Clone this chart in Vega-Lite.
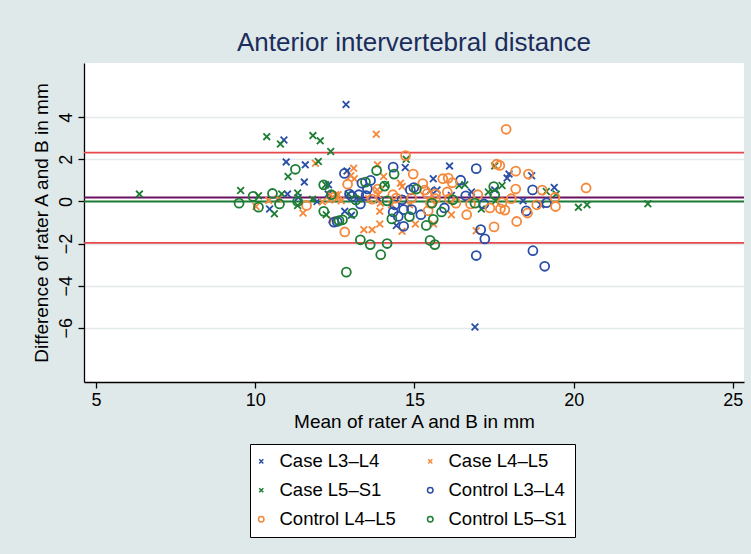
{
  "$schema": "https://vega.github.io/schema/vega-lite/v6.json",
  "autosize": {"type": "none"},
  "padding": {"left": 84, "top": 63, "right": 7, "bottom": 172},
  "width": 660,
  "height": 319,
  "background": "#e0e9ea",
  "title": {"text": "Anterior intervertebral distance", "fontSize": 26, "fontWeight": "normal", "font": "Liberation Sans", "color": "#1b2d5c", "anchor": "middle", "frame": "group", "offset": 7},
  "config": {
    "view": {"stroke": null, "fill": "white"},
    "font": "Liberation Sans",
    "axis": {"labelFont": "Liberation Sans", "titleFont": "Liberation Sans", "labelColor": "black", "titleColor": "black", "labelFontSize": 18, "titleFontSize": 19, "titleFontWeight": "normal", "domainColor": "black", "domainWidth": 1.3, "tickColor": "black", "tickWidth": 1.3, "tickSize": 6}
  },
  "layer": [
    {
      "data": {"values": [{"d": 2.32}]},
      "mark": {"type": "rule", "color": "#e5474b", "strokeWidth": 1.8},
      "encoding": {"y": {"field": "d", "type": "quantitative"}}
    },
    {
      "data": {"values": [{"d": -1.97}]},
      "mark": {"type": "rule", "color": "#e5474b", "strokeWidth": 1.8},
      "encoding": {"y": {"field": "d", "type": "quantitative"}}
    },
    {
      "data": {"values": [{"d": 0}]},
      "mark": {"type": "rule", "color": "#1e7a34", "strokeWidth": 2},
      "encoding": {"y": {"field": "d", "type": "quantitative"}}
    },
    {
      "data": {"values": [{"d": 0.19}]},
      "mark": {"type": "rule", "color": "#6b1060", "strokeWidth": 2},
      "encoding": {"y": {"field": "d", "type": "quantitative"}}
    },
    {
      "data": {"values": [
        {"g":"Case L3–L4","m":12.85,"d":4.61},{"g":"Case L3–L4","m":10.90,"d":2.92},{"g":"Case L3–L4","m":10.97,"d":1.88},{"g":"Case L3–L4","m":11.57,"d":1.74},{"g":"Case L3–L4","m":11.54,"d":0.92},{"g":"Case L3–L4","m":10.45,"d":-0.36},{"g":"Case L3–L4","m":11.01,"d":0.35},{"g":"Case L3–L4","m":11.35,"d":0.19},{"g":"Case L3–L4","m":11.94,"d":0.0},{"g":"Case L3–L4","m":12.30,"d":0.79},{"g":"Case L3–L4","m":12.29,"d":0.35},{"g":"Case L3–L4","m":12.88,"d":1.45},{"g":"Case L3–L4","m":14.71,"d":1.61},{"g":"Case L3–L4","m":15.59,"d":1.08},{"g":"Case L3–L4","m":16.10,"d":1.69},{"g":"Case L3–L4","m":15.50,"d":0.52},{"g":"Case L3–L4","m":15.71,"d":0.55},{"g":"Case L3–L4","m":13.88,"d":0.08},{"g":"Case L3–L4","m":12.81,"d":-0.47},{"g":"Case L3–L4","m":13.02,"d":-0.66},{"g":"Case L3–L4","m":14.43,"d":-1.14},{"g":"Case L3–L4","m":16.16,"d":0.28},{"g":"Case L3–L4","m":16.79,"d":0.45},{"g":"Case L3–L4","m":17.97,"d":1.30},{"g":"Case L3–L4","m":17.91,"d":1.11},{"g":"Case L3–L4","m":18.68,"d":1.22},{"g":"Case L3–L4","m":17.52,"d":0.55},{"g":"Case L3–L4","m":18.41,"d":0.03},{"g":"Case L3–L4","m":19.39,"d":0.66},{"g":"Case L3–L4","m":16.90,"d":-5.97},{"g":"Case L3–L4","m":18.97,"d":-0.16},
        {"g":"Case L4–L5","m":13.80,"d":3.19},{"g":"Case L4–L5","m":11.89,"d":1.82},{"g":"Case L4–L5","m":10.02,"d":-0.24},{"g":"Case L4–L5","m":10.42,"d":0.05},{"g":"Case L4–L5","m":10.72,"d":0.13},{"g":"Case L4–L5","m":11.50,"d":-0.55},{"g":"Case L4–L5","m":12.11,"d":-0.01},{"g":"Case L4–L5","m":12.36,"d":0.32},{"g":"Case L4–L5","m":12.52,"d":0.32},{"g":"Case L4–L5","m":12.33,"d":0.07},{"g":"Case L4–L5","m":12.55,"d":0.13},{"g":"Case L4–L5","m":12.40,"d":-0.87},{"g":"Case L4–L5","m":13.09,"d":1.58},{"g":"Case L4–L5","m":13.00,"d":1.22},{"g":"Case L4–L5","m":13.11,"d":1.08},{"g":"Case L4–L5","m":13.84,"d":1.74},{"g":"Case L4–L5","m":14.03,"d":1.19},{"g":"Case L4–L5","m":13.83,"d":0.55},{"g":"Case L4–L5","m":14.56,"d":0.87},{"g":"Case L4–L5","m":14.61,"d":0.71},{"g":"Case L4–L5","m":12.60,"d":0.32},{"g":"Case L4–L5","m":12.70,"d":0.03},{"g":"Case L4–L5","m":13.56,"d":0.13},{"g":"Case L4–L5","m":13.86,"d":0.32},{"g":"Case L4–L5","m":13.93,"d":-0.08},{"g":"Case L4–L5","m":14.28,"d":-0.16},{"g":"Case L4–L5","m":14.84,"d":-0.16},{"g":"Case L4–L5","m":15.03,"d":-1.07},{"g":"Case L4–L5","m":15.60,"d":-1.07},{"g":"Case L4–L5","m":13.41,"d":-1.34},{"g":"Case L4–L5","m":13.67,"d":-1.34},{"g":"Case L4–L5","m":13.91,"d":-1.07},{"g":"Case L4–L5","m":13.91,"d":-0.47},{"g":"Case L4–L5","m":14.61,"d":-1.42},{"g":"Case L4–L5","m":16.16,"d":-0.63},{"g":"Case L4–L5","m":16.94,"d":-1.39},
        {"g":"Case L5–S1","m":10.36,"d":3.08},{"g":"Case L5–S1","m":10.79,"d":2.73},{"g":"Case L5–S1","m":11.03,"d":1.19},{"g":"Case L5–S1","m":6.36,"d":0.35},{"g":"Case L5–S1","m":9.54,"d":0.52},{"g":"Case L5–S1","m":10.10,"d":0.27},{"g":"Case L5–S1","m":10.60,"d":-0.58},{"g":"Case L5–S1","m":10.83,"d":0.36},{"g":"Case L5–S1","m":11.33,"d":0.40},{"g":"Case L5–S1","m":11.33,"d":-0.19},{"g":"Case L5–S1","m":11.81,"d":3.13},{"g":"Case L5–S1","m":12.04,"d":2.88},{"g":"Case L5–S1","m":12.37,"d":2.37},{"g":"Case L5–S1","m":11.98,"d":1.90},{"g":"Case L5–S1","m":11.80,"d":0.11},{"g":"Case L5–S1","m":12.21,"d":0.79},{"g":"Case L5–S1","m":12.23,"d":-0.63},{"g":"Case L5–S1","m":14.74,"d":2.01},{"g":"Case L5–S1","m":12.92,"d":0.36},{"g":"Case L5–S1","m":14.09,"d":0.79},{"g":"Case L5–S1","m":16.40,"d":0.76},{"g":"Case L5–S1","m":16.58,"d":0.79},{"g":"Case L5–S1","m":17.10,"d":-0.36},{"g":"Case L5–S1","m":17.32,"d":0.45},{"g":"Case L5–S1","m":17.75,"d":0.76},{"g":"Case L5–S1","m":17.55,"d":0.03},{"g":"Case L5–S1","m":17.52,"d":1.69},{"g":"Case L5–S1","m":19.14,"d":0.47},{"g":"Case L5–S1","m":19.45,"d":0.35},{"g":"Case L5–S1","m":20.15,"d":-0.28},{"g":"Case L5–S1","m":20.42,"d":-0.16},{"g":"Case L5–S1","m":22.33,"d":-0.11},
        {"g":"Control L3–L4","m":12.80,"d":1.33},{"g":"Control L3–L4","m":14.33,"d":1.63},{"g":"Control L3–L4","m":13.35,"d":0.87},{"g":"Control L3–L4","m":13.62,"d":1.00},{"g":"Control L3–L4","m":13.52,"d":0.60},{"g":"Control L3–L4","m":14.87,"d":0.55},{"g":"Control L3–L4","m":14.98,"d":0.66},{"g":"Control L3–L4","m":12.96,"d":0.35},{"g":"Control L3–L4","m":13.04,"d":0.24},{"g":"Control L3–L4","m":13.25,"d":0.32},{"g":"Control L3–L4","m":13.48,"d":0.28},{"g":"Control L3–L4","m":13.30,"d":-0.12},{"g":"Control L3–L4","m":14.38,"d":-0.16},{"g":"Control L3–L4","m":14.61,"d":0.08},{"g":"Control L3–L4","m":14.66,"d":-0.39},{"g":"Control L3–L4","m":14.33,"d":-0.50},{"g":"Control L3–L4","m":14.49,"d":-0.71},{"g":"Control L3–L4","m":14.91,"d":-0.39},{"g":"Control L3–L4","m":15.20,"d":-0.63},{"g":"Control L3–L4","m":15.94,"d":-0.31},{"g":"Control L3–L4","m":12.57,"d":-0.95},{"g":"Control L3–L4","m":12.47,"d":-0.98},{"g":"Control L3–L4","m":14.66,"d":-1.18},{"g":"Control L3–L4","m":16.45,"d":1.01},{"g":"Control L3–L4","m":16.61,"d":0.27},{"g":"Control L3–L4","m":16.94,"d":1.56},{"g":"Control L3–L4","m":17.18,"d":-0.12},{"g":"Control L3–L4","m":18.51,"d":-0.45},{"g":"Control L3–L4","m":18.71,"d":0.55},{"g":"Control L3–L4","m":19.15,"d":-0.06},{"g":"Control L3–L4","m":17.08,"d":-1.34},{"g":"Control L3–L4","m":17.21,"d":-1.78},{"g":"Control L3–L4","m":16.94,"d":-2.57},{"g":"Control L3–L4","m":18.72,"d":-2.34},{"g":"Control L3–L4","m":19.09,"d":-3.08},
        {"g":"Control L4–L5","m":14.72,"d":2.18},{"g":"Control L4–L5","m":12.90,"d":0.82},{"g":"Control L4–L5","m":14.96,"d":1.30},{"g":"Control L4–L5","m":15.26,"d":0.85},{"g":"Control L4–L5","m":15.89,"d":1.08},{"g":"Control L4–L5","m":16.06,"d":1.11},{"g":"Control L4–L5","m":15.32,"d":0.54},{"g":"Control L4–L5","m":15.40,"d":0.37},{"g":"Control L4–L5","m":15.66,"d":0.35},{"g":"Control L4–L5","m":13.67,"d":0.11},{"g":"Control L4–L5","m":14.32,"d":0.32},{"g":"Control L4–L5","m":14.43,"d":0.16},{"g":"Control L4–L5","m":14.91,"d":0.16},{"g":"Control L4–L5","m":15.43,"d":-0.44},{"g":"Control L4–L5","m":15.50,"d":-0.08},{"g":"Control L4–L5","m":15.66,"d":0.13},{"g":"Control L4–L5","m":12.81,"d":-1.45},{"g":"Control L4–L5","m":11.61,"d":-0.19},{"g":"Control L4–L5","m":17.88,"d":3.43},{"g":"Control L4–L5","m":17.58,"d":1.77},{"g":"Control L4–L5","m":17.68,"d":1.71},{"g":"Control L4–L5","m":18.18,"d":1.44},{"g":"Control L4–L5","m":18.58,"d":1.30},{"g":"Control L4–L5","m":16.19,"d":0.89},{"g":"Control L4–L5","m":16.03,"d":0.45},{"g":"Control L4–L5","m":16.10,"d":0.13},{"g":"Control L4–L5","m":16.30,"d":-0.08},{"g":"Control L4–L5","m":16.99,"d":0.32},{"g":"Control L4–L5","m":16.76,"d":-0.12},{"g":"Control L4–L5","m":17.37,"d":-0.31},{"g":"Control L4–L5","m":17.75,"d":-0.05},{"g":"Control L4–L5","m":17.70,"d":-0.35},{"g":"Control L4–L5","m":17.84,"d":-0.41},{"g":"Control L4–L5","m":18.04,"d":0.13},{"g":"Control L4–L5","m":18.18,"d":0.59},{"g":"Control L4–L5","m":18.21,"d":-0.95},{"g":"Control L4–L5","m":17.50,"d":-1.21},{"g":"Control L4–L5","m":16.64,"d":-0.63},{"g":"Control L4–L5","m":18.55,"d":-0.55},{"g":"Control L4–L5","m":19.01,"d":0.54},{"g":"Control L4–L5","m":18.84,"d":-0.16},{"g":"Control L4–L5","m":19.41,"d":0.19},{"g":"Control L4–L5","m":19.43,"d":-0.24},{"g":"Control L4–L5","m":20.39,"d":0.64},{"g":"Control L4–L5","m":13.85,"d":0.59},
        {"g":"Control L5–S1","m":11.26,"d":1.53},{"g":"Control L5–S1","m":9.49,"d":-0.08},{"g":"Control L5–S1","m":9.93,"d":0.24},{"g":"Control L5–S1","m":10.10,"d":-0.27},{"g":"Control L5–S1","m":10.54,"d":0.38},{"g":"Control L5–S1","m":10.76,"d":-0.12},{"g":"Control L5–S1","m":11.33,"d":0.0},{"g":"Control L5–S1","m":12.15,"d":0.79},{"g":"Control L5–S1","m":12.39,"d":0.32},{"g":"Control L5–S1","m":12.15,"d":-0.47},{"g":"Control L5–S1","m":12.63,"d":-0.91},{"g":"Control L5–S1","m":13.81,"d":1.47},{"g":"Control L5–S1","m":14.36,"d":1.30},{"g":"Control L5–S1","m":13.46,"d":0.92},{"g":"Control L5–S1","m":14.06,"d":0.73},{"g":"Control L5–S1","m":15.06,"d":0.59},{"g":"Control L5–S1","m":13.16,"d":0.07},{"g":"Control L5–S1","m":14.14,"d":0.03},{"g":"Control L5–S1","m":14.84,"d":-0.72},{"g":"Control L5–S1","m":15.85,"d":-0.50},{"g":"Control L5–S1","m":15.59,"d":-0.85},{"g":"Control L5–S1","m":15.37,"d":-1.14},{"g":"Control L5–S1","m":12.74,"d":-0.87},{"g":"Control L5–S1","m":13.06,"d":-0.55},{"g":"Control L5–S1","m":13.30,"d":-1.82},{"g":"Control L5–S1","m":13.61,"d":-2.05},{"g":"Control L5–S1","m":14.14,"d":-2.00},{"g":"Control L5–S1","m":13.94,"d":-2.53},{"g":"Control L5–S1","m":12.86,"d":-3.36},{"g":"Control L5–S1","m":14.29,"d":-0.83},{"g":"Control L5–S1","m":15.49,"d":-1.85},{"g":"Control L5–S1","m":15.64,"d":-2.05},{"g":"Control L5–S1","m":15.55,"d":-0.08},{"g":"Control L5–S1","m":16.21,"d":0.08},{"g":"Control L5–S1","m":16.90,"d":-0.08},{"g":"Control L5–S1","m":17.49,"d":0.71},{"g":"Control L5–S1","m":17.52,"d":0.32}
      ]},
      "mark": {"type": "point", "filled": false, "strokeWidth": 1.8, "size": 80, "opacity": 1},
      "encoding": {
        "x": {"field": "m", "type": "quantitative", "scale": {"domain": [4.62, 25.35], "nice": false, "zero": false}, "axis": {"title": "Mean of rater A and B in mm", "values": [5, 10, 15, 20, 25], "grid": false, "labelPadding": 3, "titlePadding": 3}},
        "y": {"field": "d", "type": "quantitative", "scale": {"domain": [-8.58, 6.58], "nice": false, "zero": false}, "axis": {"title": "Difference of rater A and B in mm", "values": [-6, -4, -2, 0, 2, 4], "grid": true, "gridColor": "#e3eaec", "gridWidth": 1.5, "labelAngle": -90, "labelPadding": 3, "titlePadding": 6}},
        "color": {"field": "g", "type": "nominal", "scale": {"domain": ["Case L3–L4", "Case L5–S1", "Control L4–L5", "Case L4–L5", "Control L3–L4", "Control L5–S1"], "range": ["#2a4ea6", "#1e7d34", "#f5883a", "#f5883a", "#2a4ea6", "#1e7d34"]}, "legend": {"title": null, "orient": "none", "legendX": 166, "legendY": 381, "columns": 2, "fillColor": "white", "strokeColor": "black", "padding": 8, "labelFont": "Liberation Sans", "labelFontSize": 18.5, "labelColor": "black", "symbolSize": 30, "symbolStrokeWidth": 1.5, "symbolOffset": -6, "columnPadding": 28, "rowPadding": 10, "labelOffset": 9}},
        "shape": {"field": "g", "type": "nominal", "scale": {"domain": ["Case L3–L4", "Case L5–S1", "Control L4–L5", "Case L4–L5", "Control L3–L4", "Control L5–S1"], "range": ["M-0.75,-0.75L0.75,0.75M-0.75,0.75L0.75,-0.75", "M-0.75,-0.75L0.75,0.75M-0.75,0.75L0.75,-0.75", "circle", "M-0.75,-0.75L0.75,0.75M-0.75,0.75L0.75,-0.75", "circle", "circle"]}, "legend": {"title": null, "orient": "none", "legendX": 166, "legendY": 381, "columns": 2, "fillColor": "white", "strokeColor": "black", "padding": 8, "labelFont": "Liberation Sans", "labelFontSize": 18.5, "labelColor": "black", "symbolSize": 30, "symbolStrokeWidth": 1.5, "symbolOffset": -6, "columnPadding": 28, "rowPadding": 10, "labelOffset": 9}}
      }
    }
  ]
}
